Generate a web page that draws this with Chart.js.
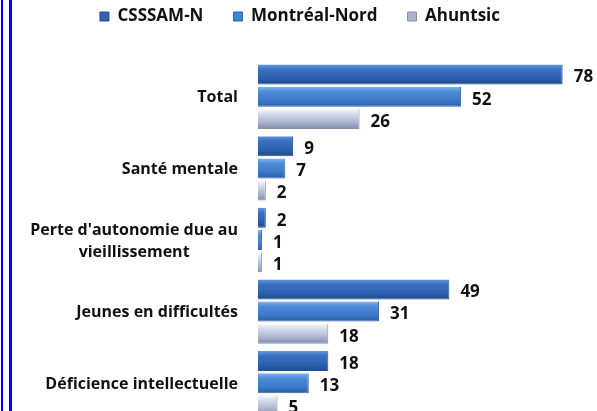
<!DOCTYPE html>
<html>
<head>
<meta charset="utf-8">
<script src="https://cdn.jsdelivr.net/npm/chart.js@4"></script>
<style>
  html, body { margin: 0; padding: 0; background: #fff; overflow: hidden; }
  #wrap { position: relative; width: 597px; height: 411px; overflow: hidden; }
  .rule { position: absolute; top: 0; bottom: 0; background: #0000ff; }
</style>
</head>
<body>
<div id="wrap">
  <canvas id="chart" width="597" height="422"></canvas>
  <div class="rule" style="left:1px;width:2px"></div>
  <div class="rule" style="left:9px;width:3px"></div>
</div>
<script>
// données
const categories = [
  'Total',
  'Santé mentale',
  ["Perte d'autonomie due au", 'vieillissement'],
  'Jeunes en difficultés',
  'Déficience intellectuelle'
];
const seriesNames = ['CSSSAM-N', 'Montréal-Nord', 'Ahuntsic'];
const csssamValues = [78, 9, 2, 49, 18];
const montrealNordValues = [52, 7, 1, 31, 13];
const ahuntsicValues = [26, 2, 1, 18, 5];

const legendColors = ['#2f62b0', '#4383d3', '#aab4cf'];
const gradientStops = [
  ['#6396db', '#3a6fc0', '#2c5fae', '#1f4888'],
  ['#80b4f0', '#4d8ad8', '#3b78c8', '#2b5fa6'],
  ['#f6f8fc', '#d6dcea', '#a7b1cc', '#7f8aa9']
];
const borderColors = ['#22508f', '#2f63a8', '#8690ad'];

const FONT = '"Open Sans", Lato, sans-serif';

// dégradé vertical pour chaque barre (effet biseau)
function barFill(i) {
  return (ctx) => {
    const el = ctx.chart.getDatasetMeta(ctx.datasetIndex).data[ctx.dataIndex];
    if (!el || !el.height) return legendColors[i];
    const top = el.y - el.height / 2;
    const g = ctx.chart.ctx.createLinearGradient(0, top, 0, top + el.height);
    const s = gradientStops[i];
    g.addColorStop(0, s[0]);
    g.addColorStop(0.25, s[1]);
    g.addColorStop(0.7, s[2]);
    g.addColorStop(1, s[3]);
    return g;
  };
}

// espace sous la légende
const legendSpacer = {
  id: 'legendSpacer',
  beforeInit(chart) {
    const fit = chart.legend.fit;
    chart.legend.fit = function () {
      fit.bind(chart.legend)();
      this.height += 26;
    };
  }
};

// étiquettes de catégories, lignes centrées
const categoryLabels = {
  id: 'categoryLabels',
  afterDraw(chart) {
    const { ctx, scales: { y } } = chart;
    const right = 238;
    ctx.save();
    ctx.font = 'bold 16px ' + FONT;
    ctx.fillStyle = '#111';
    ctx.textAlign = 'center';
    ctx.textBaseline = 'middle';
    categories.forEach((label, i) => {
      const lines = Array.isArray(label) ? label : [label];
      const w = Math.max(...lines.map(l => ctx.measureText(l).width));
      const cx = right - w / 2;
      const cy = y.getPixelForValue(i) + 1;
      const lh = 22;
      lines.forEach((l, k) => {
        ctx.fillText(l, cx, cy + (k - (lines.length - 1) / 2) * lh);
      });
    });
    ctx.restore();
  }
};

// valeurs au bout des barres
const valueLabels = {
  id: 'valueLabels',
  afterDatasetsDraw(chart) {
    const { ctx } = chart;
    ctx.save();
    ctx.font = 'bold 17px ' + FONT;
    ctx.fillStyle = '#111';
    ctx.textAlign = 'left';
    ctx.textBaseline = 'middle';
    chart.data.datasets.forEach((ds, di) => {
      chart.getDatasetMeta(di).data.forEach((el, i) => {
        ctx.fillText(ds.data[i], el.x + 11, el.y + 3);
      });
    });
    ctx.restore();
  }
};

const allValues = [csssamValues, montrealNordValues, ahuntsicValues];

const chart = new Chart(document.getElementById('chart'), {
  type: 'bar',
  data: {
    labels: categories,
    datasets: seriesNames.map((name, i) => ({
      label: name,
      data: allValues[i],
      backgroundColor: barFill(i),
      borderColor: borderColors[i],
      borderWidth: { top: 0, left: 0, right: 1, bottom: 1 },
      categoryPercentage: 0.93,
      barPercentage: 0.9
    }))
  },
  options: {
    indexAxis: 'y',
    responsive: false,
    animation: false,
    layout: { padding: { top: -22, left: 10, right: 7, bottom: 3 } },
    scales: {
      x: { display: false, min: 0, max: 85 },
      y: {
        ticks: { display: false },
        grid: { display: false },
        border: { display: false },
        afterFit(scale) { scale.width = 248; }
      }
    },
    plugins: {
      tooltip: { enabled: false },
      legend: {
        position: 'top',
        labels: {
          boxWidth: 9,
          boxHeight: 9,
          padding: 30,
          color: '#111',
          font: { family: FONT, size: 17, weight: 'bold' },
          generateLabels(c) {
            return Chart.defaults.plugins.legend.labels.generateLabels(c).map((it, i) => ({
              ...it,
              fillStyle: legendColors[i],
              strokeStyle: borderColors[i],
              lineWidth: 1
            }));
          }
        }
      }
    }
  },
  plugins: [legendSpacer, categoryLabels, valueLabels]
});
// second passage pour que les dégradés suivent la position des barres
chart.update('none');
</script>
</body>
</html>
